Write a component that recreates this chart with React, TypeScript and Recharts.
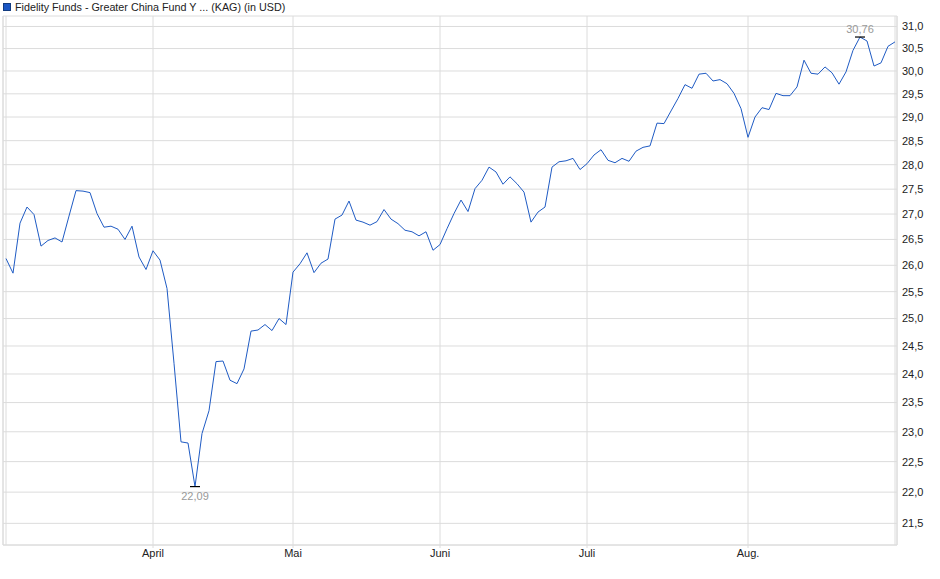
import { CartesianGrid, Line, LineChart, ReferenceLine, XAxis, YAxis } from 'recharts';

// daily NAV, 3 Mar - end of Aug (USD)
const values = [
  26.13, 25.85, 26.82, 27.14, 26.99, 26.37, 26.48, 26.53, 26.45, 26.96,
  27.47, 27.46, 27.43, 27.01, 26.74, 26.76, 26.7, 26.5, 26.76, 26.16,
  25.92,
  // April
  26.28, 26.1, 25.56, 24.19, 22.83, 22.81, 22.09, 22.97, 23.36, 24.22,
  24.23, 23.89, 23.83, 24.09, 24.77, 24.79, 24.89, 24.78, 25.0, 24.89,
  // Mai
  25.87, 26.03, 26.24, 25.86, 26.04, 26.12, 26.9, 26.98, 27.26, 26.88,
  26.84, 26.78, 26.85, 27.09, 26.9, 26.81, 26.68, 26.65, 26.57, 26.65,
  26.29,
  // Juni
  26.4, 26.71, 27.01, 27.28, 27.05, 27.51, 27.68, 27.95, 27.85, 27.6,
  27.75, 27.61, 27.44, 26.84, 27.04, 27.14, 27.95, 28.06, 28.08, 28.13,
  27.9,
  // Juli
  28.02, 28.2, 28.31, 28.09, 28.04, 28.13, 28.07, 28.28, 28.36, 28.39,
  28.87, 28.86, 29.13, 29.4, 29.7, 29.62, 29.93, 29.95, 29.78, 29.81,
  29.72, 29.51, 29.18,
  // Aug.
  28.57, 29.0, 29.2, 29.16, 29.51, 29.46, 29.46, 29.65, 30.24, 29.95,
  29.93, 30.09, 29.96, 29.71, 29.98, 30.46, 30.76, 30.67, 30.11, 30.18,
  30.55, 30.65,
];

const monthTickIndex = [21, 41, 62, 83, 106];
const monthLabels = ['April', 'Mai', 'Juni', 'Juli', 'Aug.'];

const yTicks = [
  21.5, 22, 22.5, 23, 23.5, 24, 24.5, 25, 25.5, 26, 26.5, 27, 27.5, 28, 28.5, 29, 29.5, 30, 30.5, 31,
];

const data = values.map((v, i) => ({ i, v }));
const minIdx = values.indexOf(Math.min(...values));
const maxIdx = values.indexOf(Math.max(...values));
const last = values.length - 1;

const GRID = '#dcdcdc';
const LINE = '#1f5bc4';
const FONT = '"Liberation Sans", Arial, sans-serif';

const fmt = (v: number, d = 1) => v.toFixed(d).replace('.', ',');

function ExtremeDot(props: any) {
  const { cx, cy, index, value } = props;
  if (index !== minIdx && index !== maxIdx) return <g key={index} />;
  const isMin = index === minIdx;
  return (
    <g key={index}>
      <line x1={cx - 5} x2={cx + 5} y1={cy} y2={cy} stroke="#000" strokeWidth={1.2} />
      <text
        x={cx}
        y={isMin ? cy + 13 : cy - 4}
        textAnchor="middle"
        fontSize={11}
        fill="#999"
        fontFamily={FONT}
      >
        {fmt(value, 2)}
      </text>
    </g>
  );
}

export default function App() {
  return (
    <div style={{ position: 'absolute', left: 0, top: 0, width: 940, height: 579, fontFamily: FONT, background: '#fff' }}>
      <div style={{ position: 'absolute', left: 3, top: 3, display: 'flex', alignItems: 'center', fontSize: 10.75, color: '#222', lineHeight: '8px' }}>
        <span style={{ width: 6, height: 6, background: '#1a56c4', border: '1px solid #123c80', display: 'inline-block', marginRight: 4 }} />
        Fidelity Funds - Greater China Fund Y ... (KAG) (in USD)
      </div>
      <LineChart width={940} height={579} data={data} margin={{ top: 16, right: 0, left: 3, bottom: 0 }}>
        <CartesianGrid stroke={GRID} />
        <XAxis
          dataKey="i"
          type="number"
          domain={[-3 / 7, last + 2 / 7]}
          allowDataOverflow
          ticks={monthTickIndex}
          interval={0}
          tickFormatter={(v) => monthLabels[monthTickIndex.indexOf(v)]}
          tick={{ fontSize: 11, fill: '#222', fontFamily: FONT }}
          tickLine={{ stroke: GRID }}
          axisLine={{ stroke: GRID }}
          tickSize={3}
          tickMargin={1}
          height={34}
        />
        <YAxis
          orientation="right"
          scale="log"
          domain={[21.16, 31.24]}
          allowDataOverflow
          ticks={yTicks}
          interval={0}
          width={43}
          tickSize={0}
          tickMargin={5}
          tickLine={false}
          axisLine={{ stroke: GRID }}
          tickFormatter={(v) => fmt(v)}
          tick={{ fontSize: 11, fill: '#222', fontFamily: FONT }}
        />
        <ReferenceLine x={-3 / 7} stroke={GRID} />
        <ReferenceLine x={0} stroke={GRID} />
        <ReferenceLine x={last} stroke={GRID} />
        <Line
          type="linear"
          dataKey="v"
          stroke={LINE}
          strokeWidth={1}
          dot={ExtremeDot}
          activeDot={false}
          isAnimationActive={false}
        />
      </LineChart>
    </div>
  );
}
